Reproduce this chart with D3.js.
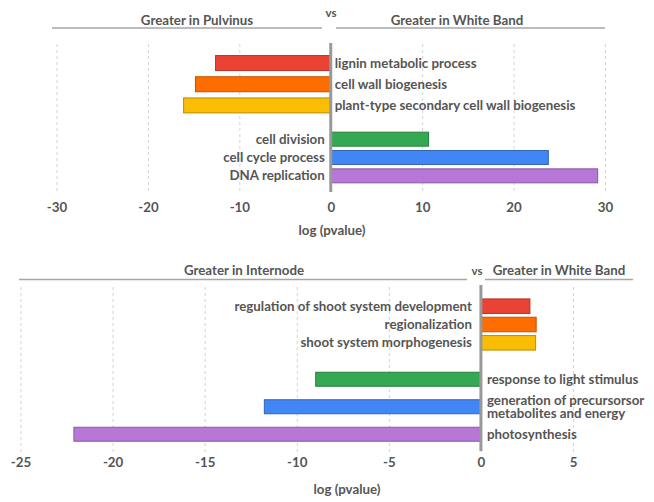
<!DOCTYPE html>
<html>
<head>
<meta charset="utf-8">
<script src="https://cdn.jsdelivr.net/npm/d3@7"></script>
<style>
  body { margin: 0; background: #fff; }
  text { font-family: Lato, "Noto Sans", sans-serif; fill: #555; }
</style>
</head>
<body>
<svg id="chart" width="654" height="502"></svg>
<script>
const topTerms = ["lignin metabolic process", "cell wall biogenesis", "plant-type secondary cell wall biogenesis",
  "cell division", "cell cycle process", "DNA replication"];
const topValues = [-12.6, -14.8, -16.1, 10.7, 23.8, 29.2];
const topTicks = [-30, -20, -10, 0, 10, 20, 30];
const topHeaders = ["Greater in Pulvinus", "Greater in White Band"];

const bottomTerms = ["regulation of shoot system development", "regionalization", "shoot system morphogenesis",
  "response to light stimulus", "generation of precursorsor\nmetabolites and energy", "photosynthesis"];
const bottomValues = [2.66, 3.0, 2.97, -8.97, -11.76, -22.1];
const bottomTicks = [-25, -20, -15, -10, -5, 0, 5];
const bottomHeaders = ["Greater in Internode", "Greater in White Band"];

const axisTitle = "log (pvalue)";
const colors = ["#ea4335", "#ff6d01", "#fbbc04", "#34a853", "#4285f4", "#b677d6"];
const fontSize = "13.3px";

const svg = d3.select("#chart");

// band scale whose bars are barH tall, spread over [y0, y1]
function band(domain, y0, y1, barH) {
  const step = (y1 - y0) / domain.length;
  const p = 1 - barH / step;
  return d3.scaleBand().domain(domain).range([y0, y1]).paddingInner(p).paddingOuter(p / 2);
}

function panel(cfg) {
  const g = svg.append("g");
  const x = d3.scaleLinear().domain(cfg.domain).range(cfg.xRange);
  const x0 = x(0);

  // dashed vertical gridlines
  g.append("g")
    .attr("transform", `translate(0,${cfg.gridBottom})`)
    .call(d3.axisBottom(x).tickValues(cfg.ticks).tickSize(-(cfg.gridBottom - cfg.gridTop)).tickFormat(""))
    .call(a => a.select(".domain").remove())
    .call(a => a.selectAll("line").attr("stroke", "#d4d4d4").attr("stroke-dasharray", "3,3"));

  // tick labels (plain hyphen for negatives, as in the original)
  g.append("g")
    .attr("transform", `translate(0,${cfg.tickY})`)
    .call(d3.axisBottom(x).tickValues(cfg.ticks).tickSize(0).tickPadding(0).tickFormat(d => String(d)))
    .call(a => a.select(".domain").remove())
    .call(a => a.selectAll("text")
      .style("font-family", "Lato, sans-serif").style("font-size", fontSize)
      .style("font-weight", "bold").attr("fill", "#666").attr("dy", "0.35em"));

  const rows = cfg.terms.map((t, i) => ({ term: t, value: cfg.values[i], color: colors[i], group: i < 3 ? 0 : 1 }));
  const yA = band(cfg.terms.slice(0, 3), cfg.groupA[0], cfg.groupA[1], cfg.barH[0]);
  const yB = band(cfg.terms.slice(3), cfg.groupB[0], cfg.groupB[1], cfg.barH[1]);
  const yOf = d => d.group === 0 ? yA : yB;

  g.selectAll("rect.bar")
    .data(rows)
    .enter()
    .append("rect")
    .attr("class", "bar")
    .attr("x", d => Math.min(x(d.value), x0))
    .attr("y", d => yOf(d)(d.term))
    .attr("width", d => Math.abs(x(d.value) - x0))
    .attr("height", d => yOf(d).bandwidth())
    .attr("fill", d => d.color)
    .attr("stroke", d => d3.color(d.color).darker(0.8))
    .attr("stroke-width", 1);

  // zero line
  g.append("line")
    .attr("x1", x0).attr("x2", x0)
    .attr("y1", cfg.zeroTop).attr("y2", cfg.zeroBottom)
    .attr("stroke", "#999").attr("stroke-width", 3);

  // category labels, on the side opposite the bar
  const labels = g.selectAll("text.lab")
    .data(rows)
    .enter()
    .append("text")
    .attr("class", "lab")
    .attr("x", d => d.value < 0 ? x0 + cfg.labelGap[1] : x0 - cfg.labelGap[0])
    .attr("y", d => yOf(d)(d.term) + yOf(d).bandwidth() / 2)
    .attr("text-anchor", d => d.value < 0 ? "start" : "end")
    .style("font-size", fontSize)
    .style("font-weight", "bold");

  labels.each(function(d) {
    const lines = d.term.split("\n");
    const t = d3.select(this);
    const lh = 0.98;
    lines.forEach((l, i) => {
      t.append("tspan")
        .attr("x", t.attr("x"))
        .attr("dy", i === 0 ? (0.35 - (lines.length - 1) * 0.5 * lh) + "em" : lh + "em")
        .text(l);
    });
  });

  // headers
  cfg.headerLines.forEach(([a, b]) => {
    g.append("line")
      .attr("x1", a).attr("x2", b)
      .attr("y1", cfg.headerLineY).attr("y2", cfg.headerLineY)
      .attr("stroke", "#a6a6a6").attr("stroke-width", 1.5);
  });
  cfg.headers.forEach((h, i) => {
    g.append("text")
      .attr("x", cfg.headerX[i]).attr("y", cfg.headerY)
      .attr("text-anchor", "middle").attr("dy", "0.35em")
      .style("font-size", fontSize).style("font-weight", "bold")
      .text(h);
  });
  g.append("text")
    .attr("x", cfg.vsX).attr("y", cfg.vsY)
    .attr("text-anchor", "middle").attr("dy", "0.35em")
    .style("font-size", "11.5px").style("font-weight", "bold")
    .text("vs");

  g.append("text")
    .attr("x", cfg.titleX).attr("y", cfg.titleY)
    .attr("text-anchor", "middle").attr("dy", "0.35em")
    .style("font-size", fontSize).style("font-weight", "bold")
    .text(axisTitle);
}

panel({
  terms: topTerms, values: topValues, ticks: topTicks, headers: topHeaders,
  domain: [-30, 30], xRange: [56.5, 605],
  gridTop: 43, gridBottom: 191, zeroTop: 43, zeroBottom: 192,
  groupA: [52.5, 116], groupB: [130, 185], barH: [15, 14],
  tickY: 207, titleX: 332, titleY: 230, labelGap: [6, 4],
  headerLines: [[52, 322], [336, 605]], headerLineY: 28, headerY: 20,
  headerX: [197, 457], vsX: 331, vsY: 13
});

panel({
  terms: bottomTerms, values: bottomValues, ticks: bottomTicks, headers: bottomHeaders,
  domain: [-25, 5], xRange: [20.5, 573],
  gridTop: 287, gridBottom: 452, zeroTop: 285, zeroBottom: 451,
  groupA: [297, 352], groupB: [365.5, 448], barH: [14.5, 14],
  tickY: 462, titleX: 347, titleY: 489, labelGap: [9, 6],
  headerLines: [[19, 467], [485, 633]], headerLineY: 279.5, headerY: 270.5,
  headerX: [244, 559], vsX: 477, vsY: 271
});
</script>
</body>
</html>
